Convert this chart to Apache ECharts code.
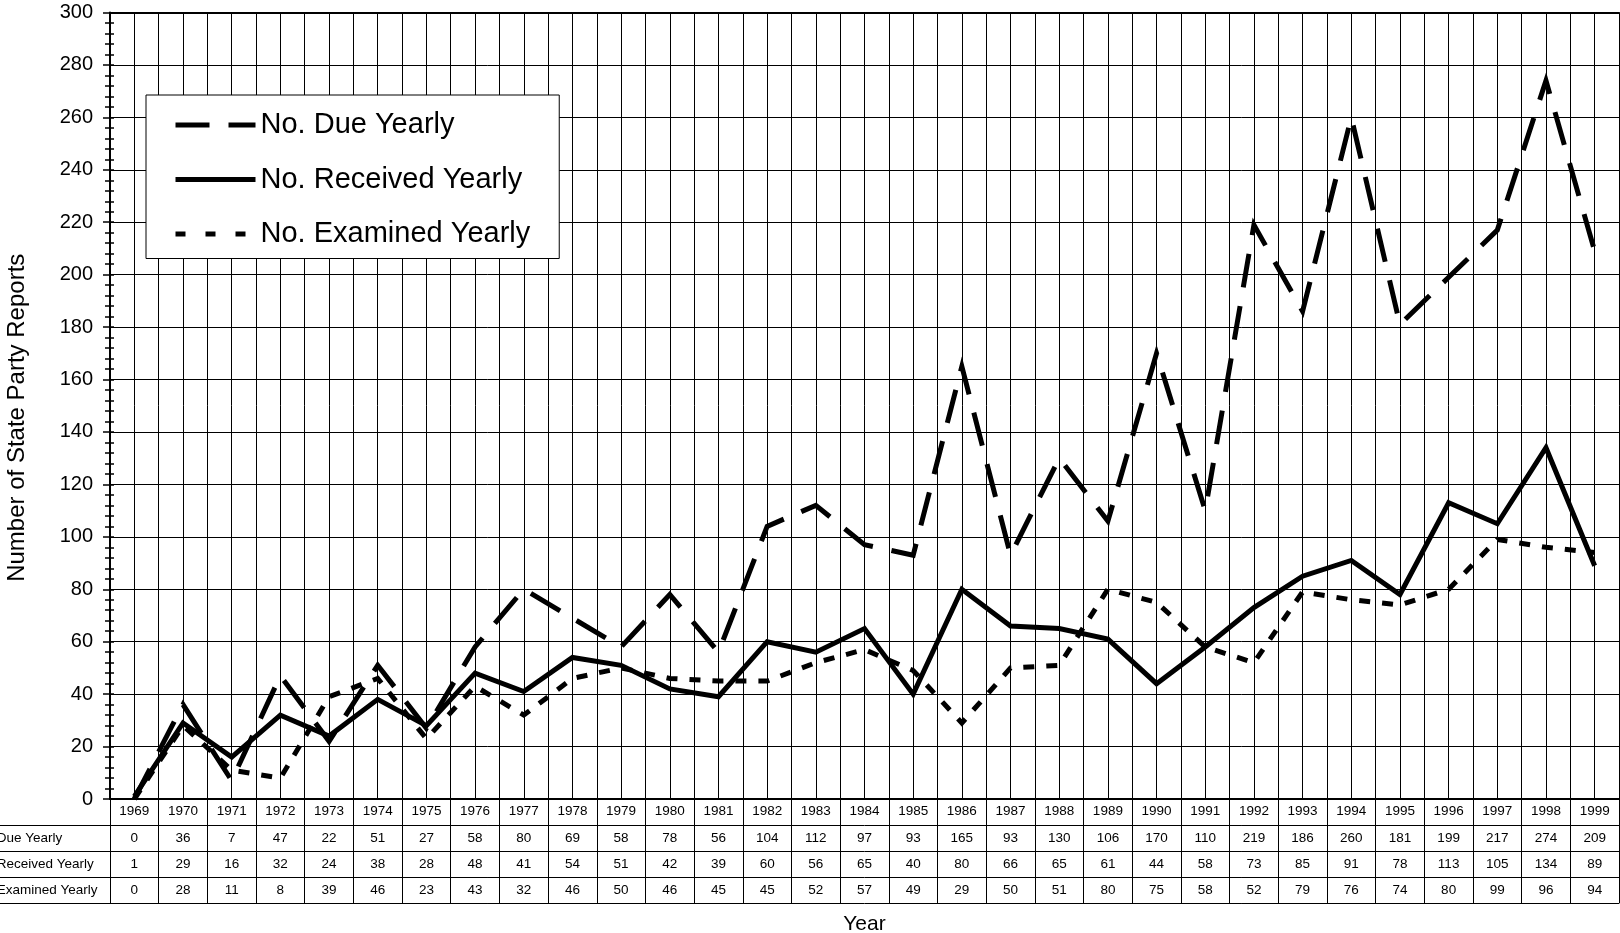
<!DOCTYPE html>
<html>
<head>
<meta charset="utf-8">
<style>
html,body{margin:0;padding:0;background:#fff;}
#chart{width:1620px;height:933px;}
</style>
<script src="https://cdn.jsdelivr.net/npm/echarts@6/dist/echarts.min.js"></script>
</head>
<body>
<div id="chart"></div>
<script>
const years = ['1969','1970','1971','1972','1973','1974','1975','1976','1977','1978','1979','1980','1981','1982','1983','1984','1985','1986','1987','1988','1989','1990','1991','1992','1993','1994','1995','1996','1997','1998','1999'];
const dueYearly = [0,36,7,47,22,51,27,58,80,69,58,78,56,104,112,97,93,165,93,130,106,170,110,219,186,260,181,199,217,274,209];
const receivedYearly = [1,29,16,32,24,38,28,48,41,54,51,42,39,60,56,65,40,80,66,65,61,44,58,73,85,91,78,113,105,134,89];
const examinedYearly = [0,28,11,8,39,46,23,43,32,46,50,46,45,45,52,57,49,29,50,51,80,75,58,52,79,76,74,80,99,96,94];
const seriesNames = ['No. Due Yearly','No. Received Yearly','No. Examined Yearly'];
const yTicks = {min: 0, max: 300, interval: 20};

const FONT = 'Liberation Sans, Arial, sans-serif';
const chart = echarts.init(document.getElementById('chart'), null, {renderer: 'canvas'});

function rowAxis(values, offset, name) {
  return {
    type: 'category',
    gridIndex: 0,
    position: 'bottom',
    offset: offset,
    data: values.map(String),
    axisLine: {show: true, onZero: false, lineStyle: {color: '#000', width: 1}},
    axisTick: {show: false},
    axisLabel: {show: true, interval: 0, margin: 1, color: '#000', fontSize: 13.5, fontFamily: FONT, lineHeight: 24},
    splitLine: {show: false},
    name: name,
    nameLocation: 'start',
    nameGap: 138,
    nameMoveOverlap: false,
    nameTextStyle: {color: '#000', fontSize: 13.5, fontFamily: FONT, align: 'left', verticalAlign: 'top', lineHeight: 26}
  };
}

function leftLine(offset) {
  return {
    type: 'category', gridIndex: 1, position: 'bottom', offset: offset, data: [''],
    axisLine: {show: true, onZero: false, lineStyle: {color: '#000', width: 1}},
    axisTick: {show: false}, axisLabel: {show: false}, splitLine: {show: false}
  };
}

const option = {
  backgroundColor: '#fff',
  animation: false,
  textStyle: {fontFamily: FONT, color: '#000'},
  grid: [
    {left: 110, right: 1, top: 12.5, bottom: 134, outerBoundsMode: 'none', containLabel: false},
    {left: 0, width: 110, top: 12.5, bottom: 134, outerBoundsMode: 'none', containLabel: false}
  ],
  legend: {
    orient: 'vertical',
    left: 146, top: 95,
    padding: [15.5, 29, 10, 27],
    backgroundColor: '#fff',
    borderColor: '#000', borderWidth: 1,
    itemWidth: 80, itemHeight: 29, itemGap: 25.5,
    lineStyle: {width: 5},
    itemStyle: {opacity: 0},
    textStyle: {fontSize: 29, color: '#000', fontFamily: FONT},
    data: [
      {name: seriesNames[0]},
      {name: seriesNames[1]},
      {name: seriesNames[2], lineStyle: {type: [10, 20]}}
    ]
  },
  xAxis: [
    {
      type: 'category', gridIndex: 0, position: 'bottom',
      data: years, boundaryGap: true,
      axisLine: {show: true, onZero: false, lineStyle: {color: '#000', width: 2}},
      axisTick: {show: true, interval: 0, inside: false, length: 104, lineStyle: {color: '#000', width: 1}},
      axisLabel: {show: true, interval: 0, margin: 0, color: '#000', fontSize: 13.5, fontFamily: FONT, lineHeight: 24},
      splitLine: {show: false}
    },
    rowAxis(dueYearly, 26, seriesNames[0]),
    rowAxis(receivedYearly, 52, seriesNames[1]),
    rowAxis(examinedYearly, 78, seriesNames[2]),
    {
      type: 'category', gridIndex: 0, position: 'bottom', offset: 104, data: years,
      axisLine: {show: true, onZero: false, lineStyle: {color: '#000', width: 1}},
      axisTick: {show: false}, axisLabel: {show: false}, splitLine: {show: false},
      name: 'Year', nameLocation: 'middle', nameGap: 11, nameMoveOverlap: false,
      nameTextStyle: {color: '#000', fontSize: 21, fontFamily: FONT, verticalAlign: 'top'}
    },
    {
      type: 'value', gridIndex: 0, position: 'top', min: 0, max: years.length, interval: 0.5,
      axisLine: {show: true, onZero: false, lineStyle: {color: '#000', width: 2}},
      axisTick: {show: false}, axisLabel: {show: false},
      splitLine: {show: true, lineStyle: {color: '#000', width: 1}}
    },
    leftLine(26), leftLine(52), leftLine(78), leftLine(104)
  ],
  yAxis: [
    {
      type: 'value', gridIndex: 0, position: 'left',
      min: yTicks.min, max: yTicks.max, interval: yTicks.interval,
      axisLine: {show: true, onZero: false, lineStyle: {color: '#000', width: 2}},
      axisTick: {show: true, inside: false, length: 7, lineStyle: {color: '#000', width: 1.5}},
      minorTick: {show: true, splitNumber: 5, length: 5, lineStyle: {color: '#000', width: 1.5}},
      axisLabel: {show: true, margin: 17, color: '#000', fontSize: 20, fontFamily: FONT},
      splitLine: {show: true, lineStyle: {color: '#000', width: 1}},
      minorSplitLine: {show: false},
      name: 'Number of State Party Reports', nameLocation: 'middle', nameGap: 81, nameMoveOverlap: false,
      nameTextStyle: {color: '#000', fontSize: 24, fontFamily: FONT, padding: [0, 24, 0, 0]}
    },
    {
      type: 'value', gridIndex: 0, position: 'left',
      min: yTicks.min, max: yTicks.max, interval: yTicks.interval,
      axisLine: {show: false, onZero: false},
      axisTick: {show: true, inside: true, length: 4, lineStyle: {color: '#000', width: 1.5}},
      minorTick: {show: true, splitNumber: 5, length: 4, lineStyle: {color: '#000', width: 1.5}},
      axisLabel: {show: false}, splitLine: {show: false}
    },
    {type: 'value', gridIndex: 1, show: false, axisLine: {onZero: false}}
  ],
  series: [
    {
      name: seriesNames[0], type: 'line', xAxisIndex: 0, yAxisIndex: 0,
      data: dueYearly, symbol: 'none', showSymbol: false,
      lineStyle: {color: '#000', width: 5, type: [34, 19], join: 'miter', cap: 'butt'},
      itemStyle: {color: '#000'}, z: 3
    },
    {
      name: seriesNames[1], type: 'line', xAxisIndex: 0, yAxisIndex: 0,
      data: receivedYearly, symbol: 'none', showSymbol: false,
      lineStyle: {color: '#000', width: 5, type: 'solid', join: 'miter'},
      itemStyle: {color: '#000'}, z: 3
    },
    {
      name: seriesNames[2], type: 'line', xAxisIndex: 0, yAxisIndex: 0,
      data: examinedYearly, symbol: 'none', showSymbol: false,
      lineStyle: {color: '#000', width: 5, type: [11, 12], join: 'miter', cap: 'butt'},
      itemStyle: {color: '#000'}, z: 3
    }
  ]
};
chart.setOption(option);
</script>
</body>
</html>
